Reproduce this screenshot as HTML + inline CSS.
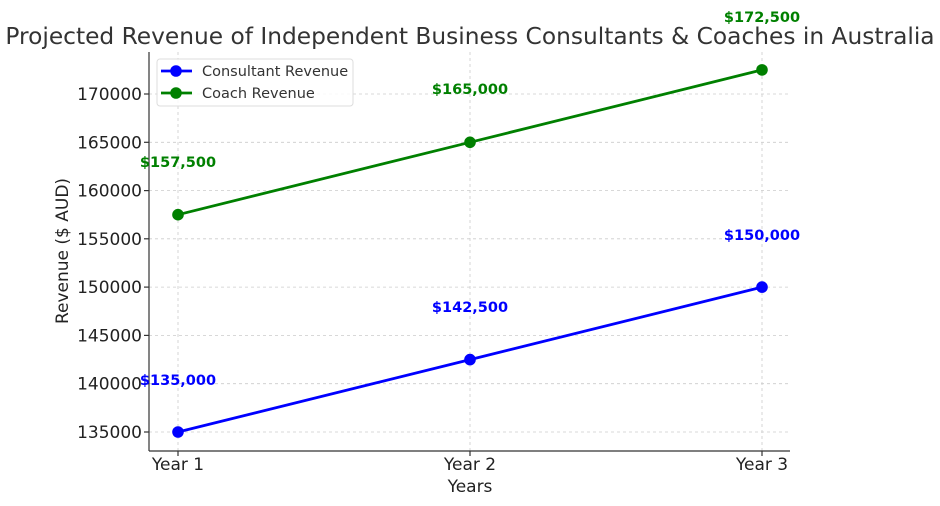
<!DOCTYPE html>
<html><head><style>body{margin:0;background:#fff}svg{display:block}</style></head>
<body>
<svg width="940" height="506" xmlns="http://www.w3.org/2000/svg" font-family="DejaVu Sans, Liberation Sans, sans-serif">
<rect width="940" height="506" fill="#fff"/>
<text x="470" y="44" font-size="23.3" fill="#333" text-anchor="middle">Projected Revenue of Independent Business Consultants &amp; Coaches in Australia</text>
<g stroke="#ccc" stroke-dasharray="3,3" stroke-width="0.8">
<line x1="178" y1="52" x2="178" y2="451"/><line x1="470" y1="52" x2="470" y2="451"/><line x1="762" y1="52" x2="762" y2="451"/>
<line x1="149" y1="432" x2="790" y2="432"/><line x1="149" y1="383.7" x2="790" y2="383.7"/><line x1="149" y1="335.4" x2="790" y2="335.4"/><line x1="149" y1="287.1" x2="790" y2="287.1"/><line x1="149" y1="238.8" x2="790" y2="238.8"/><line x1="149" y1="190.6" x2="790" y2="190.6"/><line x1="149" y1="142.3" x2="790" y2="142.3"/><line x1="149" y1="94" x2="790" y2="94"/>
</g>
<g stroke="#333" stroke-width="1.2"><line x1="149" y1="52" x2="149" y2="451"/><line x1="149" y1="451" x2="790" y2="451"/>
<line x1="144" y1="432" x2="149" y2="432"/><line x1="144" y1="383.7" x2="149" y2="383.7"/><line x1="144" y1="335.4" x2="149" y2="335.4"/><line x1="144" y1="287.1" x2="149" y2="287.1"/><line x1="144" y1="238.8" x2="149" y2="238.8"/><line x1="144" y1="190.6" x2="149" y2="190.6"/><line x1="144" y1="142.3" x2="149" y2="142.3"/><line x1="144" y1="94" x2="149" y2="94"/>
<line x1="178" y1="451" x2="178" y2="456"/><line x1="470" y1="451" x2="470" y2="456"/><line x1="762" y1="451" x2="762" y2="456"/></g>
<g font-size="17" fill="#222" text-anchor="end">
<text x="142" y="438">135000</text><text x="142" y="389.7">140000</text><text x="142" y="341.4">145000</text><text x="142" y="293.1">150000</text><text x="142" y="244.8">155000</text><text x="142" y="196.6">160000</text><text x="142" y="148.3">165000</text><text x="142" y="100">170000</text></g>
<g font-size="17" fill="#222" text-anchor="middle"><text x="178" y="470">Year 1</text><text x="470" y="470">Year 2</text><text x="762" y="470">Year 3</text>
<text x="470" y="492">Years</text>
<text transform="translate(68,251) rotate(-90)">Revenue ($ AUD)</text></g>
<polyline points="178,432 470,359.6 762,287.1" fill="none" stroke="#0000ff" stroke-width="2.8"/>
<polyline points="178,214.7 470,142.3 762,69.9" fill="none" stroke="#008000" stroke-width="2.8"/>
<g fill="#0000ff"><circle cx="178" cy="432" r="5.8"/><circle cx="470" cy="359.6" r="5.8"/><circle cx="762" cy="287.1" r="5.8"/></g>
<g fill="#008000"><circle cx="178" cy="214.7" r="5.8"/><circle cx="470" cy="142.3" r="5.8"/><circle cx="762" cy="69.9" r="5.8"/></g>
<g font-size="14.5" font-weight="bold" text-anchor="middle">
<text x="178" y="385" fill="#0000ff">$135,000</text><text x="470" y="312" fill="#0000ff">$142,500</text><text x="762" y="240" fill="#0000ff">$150,000</text>
<text x="178" y="167" fill="#008000">$157,500</text><text x="470" y="94" fill="#008000">$165,000</text><text x="762" y="22" fill="#008000">$172,500</text></g>
<rect x="157" y="59" width="196" height="47" fill="#fff" fill-opacity="0.85" stroke="#ddd" rx="3"/>
<line x1="161" y1="71" x2="192" y2="71" stroke="#0000ff" stroke-width="2.8"/><circle cx="176" cy="71" r="5.8" fill="#0000ff"/>
<line x1="161" y1="93" x2="192" y2="93" stroke="#008000" stroke-width="2.8"/><circle cx="176" cy="93" r="5.8" fill="#008000"/>
<g font-size="14.5" fill="#333"><text x="202" y="76">Consultant Revenue</text><text x="202" y="98">Coach Revenue</text></g>
</svg>
</body></html>
